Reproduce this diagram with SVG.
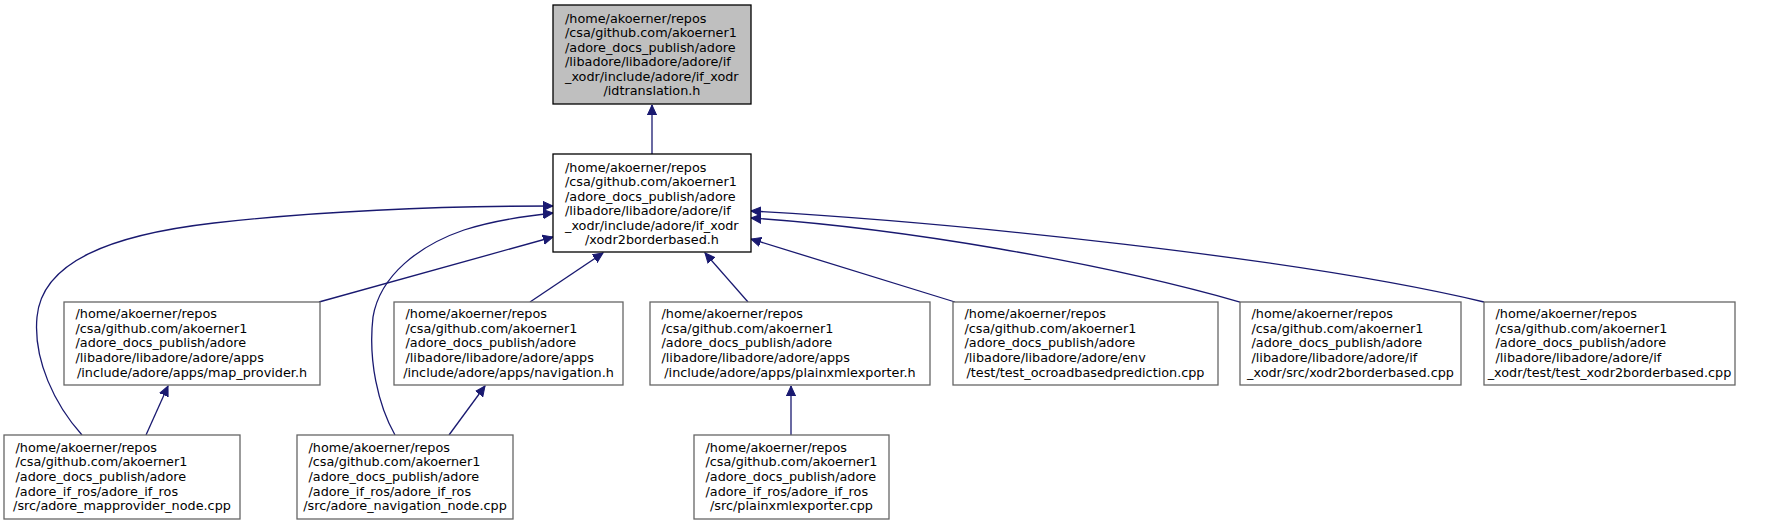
<svg xmlns="http://www.w3.org/2000/svg" width="1765" height="525" viewBox="0 0 1765 525">
<defs>
<marker id="arr" markerWidth="11" markerHeight="11" refX="10" refY="5" orient="auto" markerUnits="userSpaceOnUse" viewBox="0 0 11 10">
<path d="M0,0.4 L10,5 L0,9.6 Z" fill="#191970" stroke="#191970" stroke-width="1"/>
</marker>
</defs>
<style>
.box{fill:#ffffff;stroke:#666666;stroke-width:1.3}
.main{fill:#bfbfbf;stroke:#000000;stroke-width:1.3}
.dark{fill:#ffffff;stroke:#000000;stroke-width:1.3}
text{font-family:"DejaVu Sans","Liberation Sans",sans-serif;font-size:12.8px;fill:#000000}
.c{text-anchor:middle}
.edge{fill:none;stroke:#191970;stroke-width:1.3;marker-end:url(#arr)}
</style>
<rect width="1765" height="525" fill="#ffffff"/>

<g id="connectors">
<path class="edge" d="M652,154 L652,105"/>
<path class="edge" d="M319,302 L553,237"/>
<path class="edge" d="M82,435 C55,405 33,360 37,317 C42,262 110,235 214,223 C330,210 450,206 553,206"/>
<path class="edge" d="M395,435 C378,405 368,360 373,317 C380,275 420,245 464,230 C495,220 525,216 553,213"/>
<path class="edge" d="M530,302 L603,253"/>
<path class="edge" d="M748,302 L705,253"/>
<path class="edge" d="M955,302 L751,239"/>
<path class="edge" d="M1240,302 C1100,262 900,228 751,218"/>
<path class="edge" d="M1484,302 C1300,258 950,222 751,211"/>
<path class="edge" d="M146,435 L168,386"/>
<path class="edge" d="M449,435 L485,386"/>
<path class="edge" d="M791,435 L791,386"/>
</g>

<g id="node_idtranslation">
<rect class="main" x="553" y="5" width="198" height="99"/>
<text x="565" y="22.5">/home/akoerner/repos</text>
<text x="565" y="37">/csa/github.com/akoerner1</text>
<text x="565" y="51.5">/adore_docs_publish/adore</text>
<text x="565" y="66">/libadore/libadore/adore/if</text>
<text x="565" y="80.5">_xodr/include/adore/if_xodr</text>
<text class="c" x="652" y="95">/idtranslation.h</text>
</g>

<g id="node_xodr2borderbased_h">
<rect class="dark" x="553" y="154" width="198" height="98"/>
<text x="565" y="171.5">/home/akoerner/repos</text>
<text x="565" y="186">/csa/github.com/akoerner1</text>
<text x="565" y="200.5">/adore_docs_publish/adore</text>
<text x="565" y="215">/libadore/libadore/adore/if</text>
<text x="565" y="229.5">_xodr/include/adore/if_xodr</text>
<text class="c" x="652" y="244">/xodr2borderbased.h</text>
</g>

<g id="node_map_provider_h">
<rect class="box" x="64" y="302" width="256" height="83"/>
<text x="75.5" y="318">/home/akoerner/repos</text>
<text x="75.5" y="332.7">/csa/github.com/akoerner1</text>
<text x="75.5" y="347.3">/adore_docs_publish/adore</text>
<text x="75.5" y="362">/libadore/libadore/adore/apps</text>
<text class="c" x="192" y="376.7">/include/adore/apps/map_provider.h</text>
</g>

<g id="node_navigation_h">
<rect class="box" x="394" y="302" width="229" height="83"/>
<text x="405.5" y="318">/home/akoerner/repos</text>
<text x="405.5" y="332.7">/csa/github.com/akoerner1</text>
<text x="405.5" y="347.3">/adore_docs_publish/adore</text>
<text x="405.5" y="362">/libadore/libadore/adore/apps</text>
<text class="c" x="508.5" y="376.7">/include/adore/apps/navigation.h</text>
</g>

<g id="node_plainxmlexporter_h">
<rect class="box" x="650" y="302" width="280" height="83"/>
<text x="661.5" y="318">/home/akoerner/repos</text>
<text x="661.5" y="332.7">/csa/github.com/akoerner1</text>
<text x="661.5" y="347.3">/adore_docs_publish/adore</text>
<text x="661.5" y="362">/libadore/libadore/adore/apps</text>
<text class="c" x="790" y="376.7">/include/adore/apps/plainxmlexporter.h</text>
</g>

<g id="node_test_ocroadbasedprediction">
<rect class="box" x="953" y="302" width="265" height="83"/>
<text x="964.5" y="318">/home/akoerner/repos</text>
<text x="964.5" y="332.7">/csa/github.com/akoerner1</text>
<text x="964.5" y="347.3">/adore_docs_publish/adore</text>
<text x="964.5" y="362">/libadore/libadore/adore/env</text>
<text class="c" x="1085.5" y="376.7">/test/test_ocroadbasedprediction.cpp</text>
</g>

<g id="node_xodr2borderbased_cpp">
<rect class="box" x="1240" y="302" width="221" height="83"/>
<text x="1251.5" y="318">/home/akoerner/repos</text>
<text x="1251.5" y="332.7">/csa/github.com/akoerner1</text>
<text x="1251.5" y="347.3">/adore_docs_publish/adore</text>
<text x="1251.5" y="362">/libadore/libadore/adore/if</text>
<text class="c" x="1350.5" y="376.7">_xodr/src/xodr2borderbased.cpp</text>
</g>

<g id="node_test_xodr2borderbased">
<rect class="box" x="1484" y="302" width="251" height="83"/>
<text x="1495.5" y="318">/home/akoerner/repos</text>
<text x="1495.5" y="332.7">/csa/github.com/akoerner1</text>
<text x="1495.5" y="347.3">/adore_docs_publish/adore</text>
<text x="1495.5" y="362">/libadore/libadore/adore/if</text>
<text class="c" x="1609.5" y="376.7">_xodr/test/test_xodr2borderbased.cpp</text>
</g>

<g id="node_adore_mapprovider_node">
<rect class="box" x="4" y="435" width="236" height="84"/>
<text x="15.5" y="451.5">/home/akoerner/repos</text>
<text x="15.5" y="466.2">/csa/github.com/akoerner1</text>
<text x="15.5" y="480.8">/adore_docs_publish/adore</text>
<text x="15.5" y="495.5">/adore_if_ros/adore_if_ros</text>
<text class="c" x="122" y="510.2">/src/adore_mapprovider_node.cpp</text>
</g>

<g id="node_adore_navigation_node">
<rect class="box" x="297" y="435" width="216" height="84"/>
<text x="308.5" y="451.5">/home/akoerner/repos</text>
<text x="308.5" y="466.2">/csa/github.com/akoerner1</text>
<text x="308.5" y="480.8">/adore_docs_publish/adore</text>
<text x="308.5" y="495.5">/adore_if_ros/adore_if_ros</text>
<text class="c" x="405" y="510.2">/src/adore_navigation_node.cpp</text>
</g>

<g id="node_plainxmlexporter_cpp">
<rect class="box" x="694" y="435" width="195" height="84"/>
<text x="705.5" y="451.5">/home/akoerner/repos</text>
<text x="705.5" y="466.2">/csa/github.com/akoerner1</text>
<text x="705.5" y="480.8">/adore_docs_publish/adore</text>
<text x="705.5" y="495.5">/adore_if_ros/adore_if_ros</text>
<text class="c" x="791.5" y="510.2">/src/plainxmlexporter.cpp</text>
</g>
</svg>
